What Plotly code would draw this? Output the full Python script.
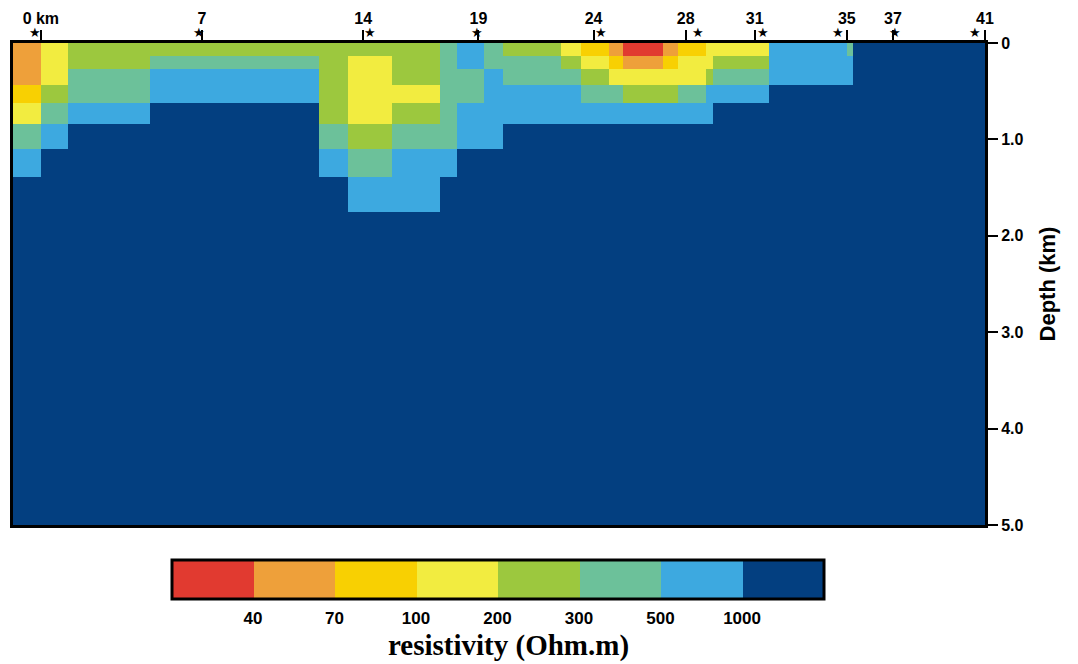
import numpy as np
import plotly.graph_objects as go

# Model mesh: horizontal cell edges (km along profile) and depth edges (km)
x_edges_km = [-1.21, 0.0, 1.17, 4.76, 12.08, 13.33, 15.24, 17.32, 18.05, 19.26,
              20.09, 22.60, 23.46, 24.68, 25.28, 27.01, 27.66, 28.87, 29.18,
              31.60, 35.02, 35.28, 41.0]
depth_edges_km = [0.0, 0.134, 0.268, 0.433, 0.619, 0.845, 1.103, 1.392, 1.753,
                  2.3, 3.0, 4.0, 5.0]

# Resistivity (Ohm.m) of each cell, one row per depth layer, one value per column
rho_layers = [
    [55, 150, 250, 250, 250, 250, 250, 400, 700, 400, 250, 150, 85, 55, 30, 55, 85, 150, 150, 700, 400, 3000],
    [55, 150, 250, 400, 250, 150, 250, 400, 700, 400, 400, 250, 150, 85, 55, 85, 150, 150, 250, 700, 700, 3000],
    [55, 150, 400, 700, 250, 150, 250, 400, 400, 700, 400, 400, 250, 150, 150, 150, 150, 250, 400, 700, 700, 3000],
    [85, 250, 400, 700, 250, 150, 150, 400, 400, 700, 700, 700, 400, 400, 250, 250, 400, 700, 700, 3000, 3000, 3000],
    [150, 400, 700, 3000, 250, 150, 250, 400, 700, 700, 700, 700, 700, 700, 700, 700, 700, 700, 3000, 3000, 3000, 3000],
    [400, 700, 3000, 3000, 400, 250, 400, 400, 700, 700, 3000, 3000, 3000, 3000, 3000, 3000, 3000, 3000, 3000, 3000, 3000, 3000],
    [700, 3000, 3000, 3000, 700, 400, 700, 700, 3000, 3000, 3000, 3000, 3000, 3000, 3000, 3000, 3000, 3000, 3000, 3000, 3000, 3000],
    [3000, 3000, 3000, 3000, 3000, 700, 700, 3000, 3000, 3000, 3000, 3000, 3000, 3000, 3000, 3000, 3000, 3000, 3000, 3000, 3000, 3000],
    [3000, 3000, 3000, 3000, 3000, 3000, 3000, 3000, 3000, 3000, 3000, 3000, 3000, 3000, 3000, 3000, 3000, 3000, 3000, 3000, 3000, 3000],
    [3000, 3000, 3000, 3000, 3000, 3000, 3000, 3000, 3000, 3000, 3000, 3000, 3000, 3000, 3000, 3000, 3000, 3000, 3000, 3000, 3000, 3000],
    [3000, 3000, 3000, 3000, 3000, 3000, 3000, 3000, 3000, 3000, 3000, 3000, 3000, 3000, 3000, 3000, 3000, 3000, 3000, 3000, 3000, 3000],
    [3000, 3000, 3000, 3000, 3000, 3000, 3000, 3000, 3000, 3000, 3000, 3000, 3000, 3000, 3000, 3000, 3000, 3000, 3000, 3000, 3000, 3000],
]

# Colour classes
rho_breaks = [40, 70, 100, 200, 300, 500, 1000]
rho_break_labels = ["40", "70", "100", "200", "300", "500", "1000"]
class_colors = ["#E13A30", "#EEA03A", "#F8D002", "#F2EC40", "#9CC83E",
                "#6CC19A", "#3DA9E0", "#033F80"]

# Profile ticks and MT site positions
tick_km = [0, 7, 14, 19, 24, 28, 31, 35, 37, 41]
tick_text = ["0 km", "7", "14", "19", "24", "28", "31", "35", "37", "41"]
site_km = [-0.26, 6.88, 14.29, 18.92, 24.33, 28.53, 31.34, 34.63, 37.10, 40.56]

depth_ticks = [0, 1, 2, 3, 4, 5]
depth_tick_text = ["0", "1.0", "2.0", "3.0", "4.0", "5.0"]

n_cls = len(class_colors)
cls = np.digitize(np.array(rho_layers, dtype=float), rho_breaks) + 0.5

colorscale = []
for i, c in enumerate(class_colors):
    colorscale.append([i / n_cls, c])
    colorscale.append([(i + 1) / n_cls, c])

sans = "Liberation Sans, Arial, sans-serif"
axis_font = dict(family=sans, size=16, color="black", weight=700)
cbar_font = dict(family=sans, size=17, color="black", weight=700)

fig = go.Figure()
fig.add_trace(go.Heatmap(
    x=x_edges_km, y=depth_edges_km, z=cls,
    zmin=0, zmax=n_cls, colorscale=colorscale,
    hoverinfo="skip",
    colorbar=dict(
        orientation="h",
        x=0.4985, xanchor="center",
        y=-0.072, yanchor="top",
        len=652, lenmode="pixels",
        thickness=39, thicknessmode="pixels",
        xpad=0, ypad=0,
        outlinewidth=3, outlinecolor="black",
        tickmode="array",
        tickvals=list(range(1, n_cls)),
        ticktext=rho_break_labels,
        ticks="outside", ticklen=4, tickcolor="rgba(0,0,0,0)",
        tickfont=cbar_font,
    ),
))

annotations = [
    dict(text="resistivity (Ohm.m)", xref="paper", yref="paper",
         x=0.51, y=-0.25, xanchor="center", yanchor="middle", showarrow=False,
         font=dict(family="Liberation Serif, Times New Roman, serif",
                   size=29, color="black", weight=700)),
]
# MT sites along the surface
for s in site_km:
    annotations.append(dict(
        text="★", x=s, y=0, xref="x", yref="y", yanchor="bottom",
        yshift=1, showarrow=False,
        font=dict(family="DejaVu Sans", size=13, color="black"),
    ))

fig.update_layout(
    width=1078, height=664,
    margin=dict(l=10, r=93, t=40, b=139),
    paper_bgcolor="white", plot_bgcolor="white",
    showlegend=False,
    annotations=annotations,
    xaxis=dict(
        range=[x_edges_km[0], x_edges_km[-1]], side="top",
        tickmode="array", tickvals=tick_km, ticktext=tick_text,
        ticks="outside", ticklen=10, tickwidth=2, tickcolor="black",
        tickfont=axis_font, showgrid=False, zeroline=False,
        showline=True, linewidth=3, linecolor="black", mirror=True,
    ),
    yaxis=dict(
        range=[5, 0], side="right",
        tickmode="array", tickvals=depth_ticks, ticktext=depth_tick_text,
        ticks="outside", ticklen=10, tickwidth=2, tickcolor="black",
        tickfont=axis_font, showgrid=False, zeroline=False,
        showline=True, linewidth=3, linecolor="black", mirror=True,
        title=dict(text="Depth (km)", standoff=18,
                   font=dict(family=sans, size=22, color="black", weight=700)),
    ),
)

fig.write_html("out.html")
